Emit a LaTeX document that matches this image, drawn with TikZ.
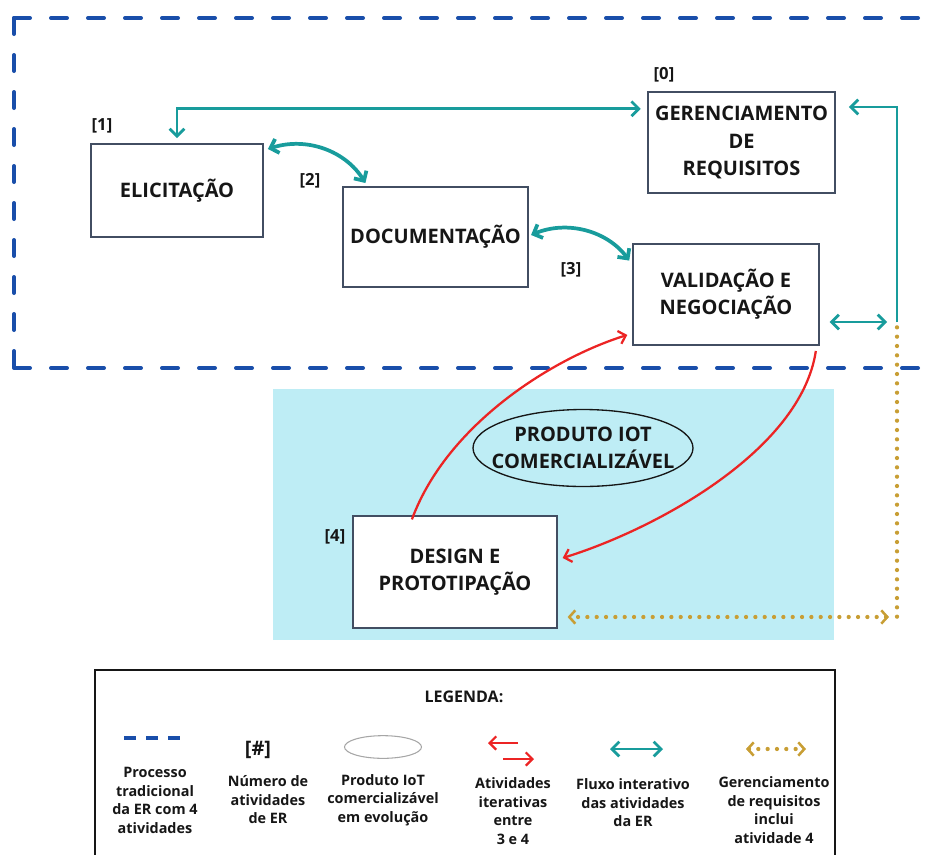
\documentclass[tikz,border=0pt]{standalone}
\usepackage{fontspec}
\setmainfont{Open Sans}
\usetikzlibrary{arrows.meta,shapes.geometric,calc}

\definecolor{erblue}{RGB}{25,78,170}
\definecolor{erteal}{RGB}{24,156,156}
\definecolor{ergold}{RGB}{200,158,52}
\definecolor{erred}{RGB}{236,36,36}
\definecolor{ercyan}{RGB}{190,237,245}
\definecolor{erframe}{RGB}{66,78,98}
\definecolor{ertext}{RGB}{22,22,22}

\begin{document}
\begin{tikzpicture}[x=0.75pt,y=-0.75pt,
  activity/.style={draw=erframe, line width=0.9pt, fill=white, inner sep=0pt,
    align=center, text=ertext, font=\bfseries\fontsize{15}{20.5}\selectfont},
  numlabel/.style={text=ertext, inner sep=0pt, font=\bfseries\fontsize{12.5}{15}\selectfont},
  legtext/.style={text=ertext, inner sep=0pt, align=center,
    font=\bfseries\fontsize{10.8}{13.9}\selectfont},
  barb/.tip={Straight Barb[length=5.5pt,width=11pt]},
  redbarb/.tip={Straight Barb[length=5pt,width=10pt]},
  goldbarb/.tip={Straight Barb[length=4.5pt,width=10pt,line width=1.9pt]},
  flow/.style={draw=erteal, line width=2.1pt, barb-barb},
  flowcurve/.style={draw=erteal, line width=2.8pt, barb-barb},
  iter/.style={draw=erred, line width=1.7pt, -redbarb},
  mgmt/.style={draw=ergold, line width=3.2pt, line cap=round, dash pattern=on 0pt off 7pt},
  mgmtarrow/.style={mgmt, goldbarb-goldbarb},
  erframeline/.style={draw=erblue, line width=3pt, line cap=round, dash pattern=on 12pt off 15.75pt}
]
\useasboundingbox (0,0) rectangle (925,854);

% area of the IoT product
\fill[ercyan] (273,389) rectangle (834,640);

% traditional RE process frame
\draw[erframeline] (14,18) -- (930,18);
\draw[erframeline] (14,18) -- (14,368);
\draw[erframeline] (14,368) -- (930,368);

% activities
\node[activity, minimum width=129pt, minimum height=69.75pt] (eli) at (177,190.5) {ELICITAÇÃO};
\node[activity, minimum width=138.75pt, minimum height=75pt] (doc) at (435.5,237) {DOCUMENTAÇÃO};
\node[activity, minimum width=140.25pt, minimum height=75.75pt] (ger) at (741.5,142.5) {GERENCIAMENTO\\DE\\REQUISITOS};
\node[activity, minimum width=139.5pt, minimum height=75.75pt] (val) at (726,294.5) {VALIDAÇÃO E\\NEGOCIAÇÃO};
\node[activity, minimum width=153pt, minimum height=84pt] (des) at (455,572) {DESIGN E\\PROTOTIPAÇÃO};

% the evolving IoT product
\node[inner sep=0pt, align=center, text=ertext, font=\bfseries\fontsize{15}{20.5}\selectfont] (iot) at (583,448)
  {PRODUTO IOT\\COMERCIALIZÁVEL};
\draw[draw=ertext, line width=1pt] (iot.center) ellipse [x radius=110, y radius=38.5];

% activity numbers
\node[numlabel] (n1) at (102,126) {[1]};
\node[numlabel] (n2) at (310,181) {[2]};
\node[numlabel] (n0) at (664,75) {[0]};
\node[numlabel] (n3) at (571,270) {[3]};
\node[numlabel] (n4) at (335,537) {[4]};

% junction points of the management loop
\coordinate (jr) at (897,322);
\coordinate (jt) at (897,107);
\coordinate (jb) at (897,617);

% iterative flow among the RE activities
\draw[flow, shorten <=4pt, shorten >=5pt]
  (eli.north) |- ($(ger.north west)!0.17!(ger.south west)$);
\draw[flowcurve, shorten <=1pt, shorten >=3pt]
  ([shift={(3,6)}]eli.north east) to[bend left=38] ($(doc.north west)!0.135!(doc.north east)$);
\draw[flowcurve, shorten <=2pt, shorten >=4pt]
  ($(doc.north east)!0.49!(doc.south east)$) to[bend left=38] ($(val.north west)!0.21!(val.south west)$);
\draw[flow, shorten <=7.5pt, shorten >=7.5pt] (jr -| val.east) -- (jr);
\draw[draw=erteal, line width=2.1pt, -barb, shorten >=10pt]
  (jr) -- (jt) -- (jt -| ger.east);

% requirements management reaches activity 4
\draw[mgmt] ([yshift=-4pt]jr) -- (jb);
\draw[mgmtarrow, shorten <=6pt, shorten >=7.5pt] (jb) -- (jb -| des.east);

% iterations between activities 3 and 4
\draw[iter, shorten >=4pt]
  ([yshift=-3pt]$(des.north west)!0.29!(des.north east)$)
  .. controls +(35,-95) and +(-80,25) .. ($(val.north west)!0.88!(val.south west)$);
\draw[iter, shorten >=4pt]
  ([yshift=-4pt]$(val.south west)!0.98!(val.south east)$)
  .. controls +(-15,100) and +(97,-30) .. ($(des.north east)!0.39!(des.south east)$);

% legend
\draw[draw=ertext, line width=1.5pt] (95,860) -- (95,670) -- (835,670) -- (835,860);
\node[text=ertext, inner sep=0pt, font=\bfseries\fontsize{12}{14}\selectfont] (legtitle) at (464,697) {LEGENDA:};

\draw[draw=erblue, line width=2.4pt, dash pattern=on 9pt off 7.5pt] (124,738) -- (180,738);
\node[legtext] (lg1) at (155,800.5) {Processo\\tradicional\\da ER com 4\\atividades};

\node[numlabel, font=\bfseries\fontsize{15}{17}\selectfont] (lgnum) at (258,750) {[\#]};
\node[legtext] (lg2) at (268,800) {Número de\\atividades\\de ER};

\node[ellipse, draw=gray!70, line width=0.8pt, minimum width=57.75pt, minimum height=17pt, inner sep=0pt] (lgell) at (383,747) {};
\node[legtext] (lg3) at (383,800) {Produto IoT\\comercializável\\em evolução};

\draw[iter] (518,743) -- (488,743);
\draw[iter] (503,759) -- (534,759);
\node[legtext] (lg4) at (513,811) {Atividades\\iterativas\\entre\\3 e 4};

\draw[flow] (610,749) -- (663,749);
\node[legtext] (lg5) at (633,803) {Fluxo interativo\\das atividades\\da ER};

\draw[mgmtarrow] (746,749) -- (806,749);
\node[legtext] (lg6) at (774,810) {Gerenciamento\\de requisitos\\inclui\\atividade 4};
\end{tikzpicture}
\end{document}
